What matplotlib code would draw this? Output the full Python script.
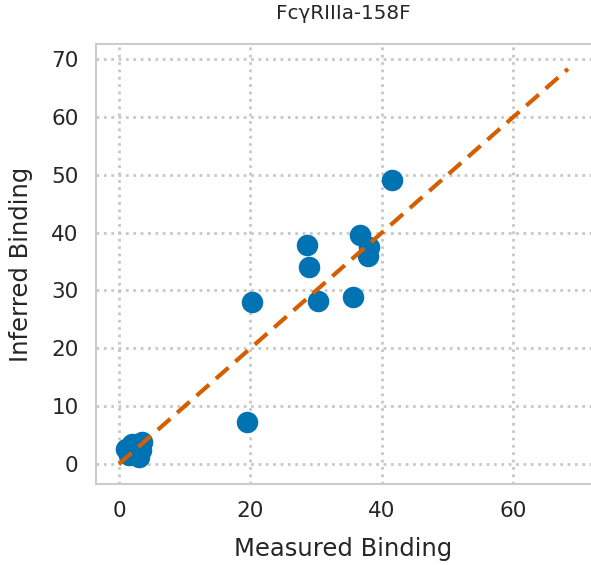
import matplotlib
matplotlib.use("Agg")
import matplotlib.pyplot as plt
import seaborn as sns

sns.set_style("whitegrid")

measured = [20.2, 19.5, 28.6, 28.9, 30.3, 35.6, 36.7, 38.0, 37.9, 41.6,
            1.0, 2.0, 3.5, 3.0, 1.5, 2.5, 3.4]
inferred = [28.0, 7.2, 37.9, 34.0, 28.2, 28.9, 39.6, 37.5, 35.9, 49.1,
            2.6, 3.4, 3.8, 1.2, 1.6, 2.5, 2.4]
diag = [0, 68.3]

fig = plt.figure(figsize=(5.91, 5.65), dpi=100)
ax = fig.add_axes([0.1624, 0.1434, 0.8376, 0.7787])

ax.scatter(measured, inferred, s=240, color="#0173b2", zorder=3, linewidths=0)
ax.plot(diag, diag, "--", color="#d55e00", lw=3, dashes=(4, 2.2), zorder=4)

ax.set_xlim(-3.5, 71.8)
ax.set_ylim(-3.46, 72.6)
ax.set_xticks([0, 20, 40, 60])
ax.set_yticks(range(0, 71, 10))
ax.grid(True, linestyle=":", linewidth=2, color="#c8c8c8")
ax.set_axisbelow(True)
for side in ["left", "bottom", "top"]:
    ax.spines[side].set_color("#cccccc")
    ax.spines[side].set_linewidth(1.5)
ax.spines["right"].set_visible(False)
ax.tick_params(labelsize=15.5, colors="#262626", pad=9)
ax.set_xlabel("Measured Binding", fontsize=17.5, color="#262626", labelpad=11)
ax.set_ylabel("Inferred Binding", fontsize=17.5, color="#262626", labelpad=13)
ax.set_title("FcγRIIIa-158F", fontsize=14.3, color="#262626", pad=18)

plt.savefig("out.png", dpi=100)
